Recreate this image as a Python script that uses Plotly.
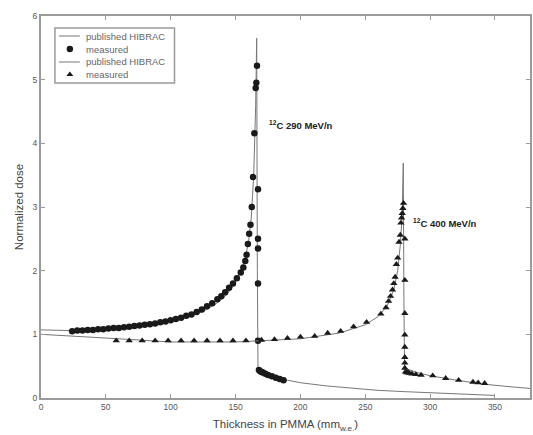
import plotly.graph_objects as go

# ---- data ----
c290_line_x = [0, 20, 40, 60, 80, 100, 115, 125, 135, 142, 148, 153, 157, 160, 162, 164, 165.5, 166.3, 166.8, 167.3,
               170, 180, 190, 200, 220, 240, 260, 280, 300, 320, 340, 350]
c290_line_y = [1.07, 1.06, 1.07, 1.09, 1.13, 1.20, 1.28, 1.36, 1.48, 1.60, 1.75, 1.95, 2.15, 2.45, 2.8, 3.5, 4.6, 5.65, 2.0, 0.47,
               0.42, 0.33, 0.28, 0.24, 0.19, 0.15, 0.12, 0.10, 0.08, 0.06, 0.05, 0.04]

c290_meas_x = [24, 28, 32, 36, 40, 44, 48, 52, 56, 60, 64, 68, 72, 76, 80, 84, 88, 92, 96, 100,
               104, 108, 112, 116, 120, 124, 128, 132, 136, 139, 142, 145, 148, 151, 154, 156, 157.5, 158.5,
               159.5, 160.5, 161.5, 162.5, 163.5, 164.5, 165.5, 166, 166.5,
               167.3, 167.3, 167.3, 167.3, 167.3, 168, 169, 170, 171, 173, 175, 178, 181, 184, 187]
c290_meas_y = [1.05, 1.06, 1.06, 1.07, 1.07, 1.08, 1.08, 1.09, 1.10, 1.10, 1.11, 1.12, 1.13, 1.14, 1.15, 1.16, 1.17, 1.19, 1.20, 1.22,
               1.24, 1.26, 1.29, 1.31, 1.35, 1.39, 1.44, 1.49, 1.55, 1.60, 1.66, 1.73, 1.80, 1.88, 1.97, 2.05, 2.15, 2.25,
               2.42, 2.58, 2.72, 3.00, 3.47, 4.16, 4.87, 4.95, 5.22,
               3.28, 2.50, 2.35, 1.80, 0.90, 0.44, 0.42, 0.41, 0.40, 0.38, 0.36, 0.34, 0.32, 0.30, 0.28]

c400_line_x = [0, 30, 60, 100, 150, 200, 230, 250, 260, 267, 272, 275, 277, 278.5, 279.3, 279.8, 280.3,
               290, 300, 320, 340, 360, 377]
c400_line_y = [1.00, 0.97, 0.93, 0.88, 0.88, 0.93, 1.02, 1.15, 1.28, 1.45, 1.70, 2.00, 2.40, 2.90, 3.69, 1.50, 0.47,
               0.40, 0.35, 0.28, 0.22, 0.18, 0.15]

c400_meas_x = [58, 68, 78, 88, 98, 108, 118, 128, 138, 148, 158, 170, 180, 190, 200, 211, 221, 231, 241, 251,
               262, 266, 268, 269.5, 271, 272, 273, 274, 275, 276, 277, 277.5, 278, 278.5, 279, 279.5,
               280.5, 280.5, 280.5, 280.5, 280.5, 280.5, 280.5, 280.5, 281, 282, 283, 284, 286, 289,
               293, 302, 312, 322, 333, 337, 342]
c400_meas_y = [0.90, 0.90, 0.90, 0.90, 0.90, 0.90, 0.90, 0.90, 0.90, 0.90, 0.90, 0.91, 0.92, 0.94, 0.96, 0.97, 1.02, 1.05, 1.12, 1.19,
               1.32, 1.42, 1.52, 1.60, 1.70, 1.80, 1.90, 2.10, 2.20, 2.45, 2.56, 2.75, 2.83, 2.90, 2.98, 3.06,
               2.50, 1.85, 1.33, 0.99, 0.80, 0.64, 0.55, 0.47, 0.41, 0.40, 0.40, 0.39, 0.38, 0.37,
               0.36, 0.35, 0.31, 0.28, 0.25, 0.24, 0.23]

x_ticks = [0, 50, 100, 150, 200, 250, 300, 350]
y_ticks = [0, 1, 2, 3, 4, 5, 6]

legend_labels = ["published HIBRAC", "measured", "published HIBRAC", "measured"]

ink = "#1a1a1a"
linec = "#777777"
frame = "#9a9a9a"
txt = "#555555"
FONT = "Liberation Sans, Arial"

fig = go.Figure()
fig.add_trace(go.Scatter(x=c290_line_x, y=c290_line_y, mode="lines", name=legend_labels[0],
                         line=dict(color=linec, width=1), showlegend=False))
fig.add_trace(go.Scatter(x=c290_meas_x, y=c290_meas_y, mode="markers", name=legend_labels[1],
                         marker=dict(symbol="circle", size=6.5, color=ink), showlegend=False))
fig.add_trace(go.Scatter(x=c400_line_x, y=c400_line_y, mode="lines", name=legend_labels[2],
                         line=dict(color=linec, width=1), showlegend=False))
fig.add_trace(go.Scatter(x=c400_meas_x, y=c400_meas_y, mode="markers", name=legend_labels[3],
                         marker=dict(symbol="triangle-up", size=6.5, color=ink), showlegend=False))

# ---- compact legend (MATLAB-like), drawn in paper-like overlay axes ----
leg_x0, leg_x1, leg_y0, leg_y1 = 0.0285, 0.273, 0.8246, 0.9686
row_y = [0.9476, 0.9136, 0.8796, 0.8468]
samp_x0, samp_x1, mark_x, text_x = 0.0367, 0.0794, 0.059, 0.0876

fig.add_shape(type="rect", xref="paper", yref="paper", x0=leg_x0, x1=leg_x1, y0=leg_y0, y1=leg_y1,
              line=dict(color=frame, width=1.5), fillcolor="white", layer="below")
for i in (0, 2):
    fig.add_shape(type="line", xref="paper", yref="paper", x0=samp_x0, x1=samp_x1, y0=row_y[i], y1=row_y[i],
                  line=dict(color=linec, width=1))
fig.add_trace(go.Scatter(x=[mark_x], y=[row_y[1]], xaxis="x2", yaxis="y2", mode="markers",
                         marker=dict(symbol="circle", size=6.5, color=ink), showlegend=False, hoverinfo="skip"))
fig.add_trace(go.Scatter(x=[mark_x], y=[row_y[3]], xaxis="x2", yaxis="y2", mode="markers",
                         marker=dict(symbol="triangle-up", size=6, color=ink), showlegend=False, hoverinfo="skip"))
for lbl, ry in zip(legend_labels, row_y):
    fig.add_annotation(x=text_x, y=ry, xref="paper", yref="paper", text=lbl, showarrow=False,
                       xanchor="left", yanchor="middle", font=dict(family=FONT, size=9.5, color="#666666"))

fig.add_annotation(x=174, y=4.29, xref="x", yref="y", text="<b><sup>12</sup>C 290 MeV/n</b>",
                   showarrow=False, xanchor="left", yanchor="middle",
                   font=dict(family=FONT, size=9.5, color="#222222"))
fig.add_annotation(x=285, y=2.75, xref="x", yref="y", text="<b><sup>12</sup>C 400 MeV/n</b>",
                   showarrow=False, xanchor="left", yanchor="middle",
                   font=dict(family=FONT, size=9.5, color="#222222"))

axis_common = dict(showgrid=False, zeroline=False, showline=True, linecolor=frame, linewidth=2,
                   mirror="ticks", ticks="inside", ticklen=4, tickcolor=frame, tickwidth=1,
                   tickfont=dict(family=FONT, size=8.5, color=txt))

fig.update_layout(
    width=533, height=435,
    margin=dict(l=41, r=1, t=16, b=37),
    paper_bgcolor="white", plot_bgcolor="white",
    font=dict(family=FONT, color=txt),
    xaxis=dict(range=[0, 377], tickvals=x_ticks, ticktext=[str(v) for v in x_ticks],
               title=dict(text="Thickness in PMMA (mm<sub>w.e.</sub>)", standoff=9,
                          font=dict(size=11.5, color="#444444")), **axis_common),
    yaxis=dict(range=[0, 6], tickvals=y_ticks, ticktext=[str(v) for v in y_ticks],
               title=dict(text="Normalized dose", standoff=7,
                          font=dict(size=11.5, color="#444444")), **axis_common),
    xaxis2=dict(overlaying="x", range=[0, 1], visible=False, fixedrange=True),
    yaxis2=dict(overlaying="y", range=[0, 1], visible=False, fixedrange=True),
    showlegend=False,
)

fig.write_html("out.html")
